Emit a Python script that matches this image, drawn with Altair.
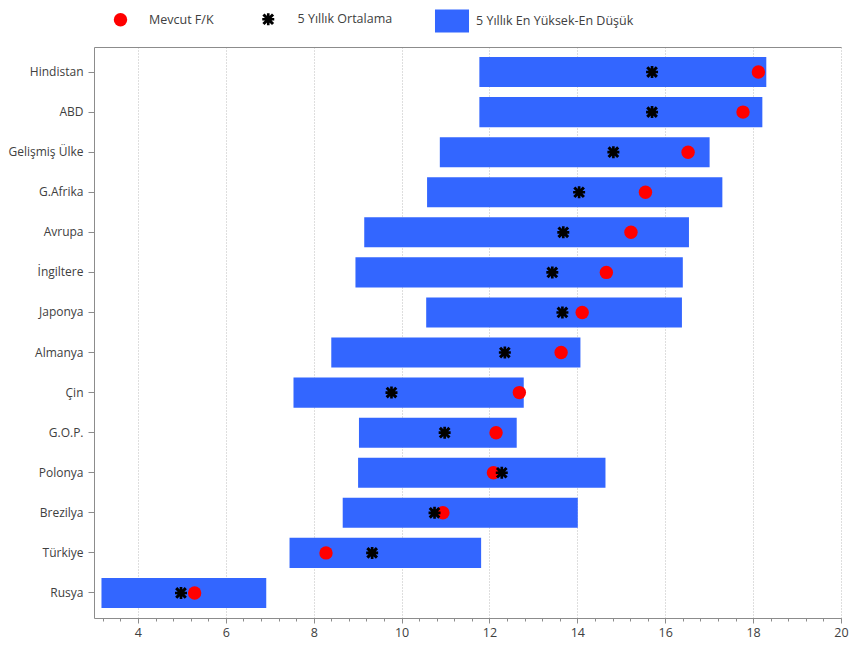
import altair as alt
import pandas as pd

countries = ["Hindistan", "ABD", "Gelişmiş Ülke", "G.Afrika", "Avrupa", "İngiltere",
             "Japonya", "Almanya", "Çin", "G.O.P.", "Polonya", "Brezilya", "Türkiye", "Rusya"]
low_5y = [11.77, 11.77, 10.87, 10.58, 9.15, 8.95, 10.56, 8.40, 7.54, 9.03, 9.01, 8.66, 7.45, 3.17]
high_5y = [18.30, 18.21, 17.01, 17.30, 16.54, 16.40, 16.38, 14.07, 12.78, 12.62, 14.64, 14.01, 11.81, 6.92]
avg_5y = [15.70, 15.70, 14.82, 14.04, 13.68, 13.43, 13.66, 12.35, 9.77, 10.98, 12.28, 10.75, 9.33, 4.98]
current_pe = [18.12, 17.77, 16.52, 15.55, 15.22, 14.66, 14.11, 13.63, 12.68, 12.15, 12.09, 10.94, 8.28, 5.29]

series_names = ["Mevcut F/K", "5 Yıllık Ortalama", "5 Yıllık En Yüksek-En Düşük"]
major_ticks = [4, 6, 8, 10, 12, 14, 16, 18, 20]
minor_ticks = [round(3.2 + 0.4 * i, 1) for i in range(43)]
x_domain = [3, 20]

df = pd.DataFrame({
    "country": countries,
    "low": low_5y,
    "high": high_5y,
    "avg": avg_5y,
    "cur": current_pe,
    "s_cur": series_names[0],
    "s_avg": series_names[1],
    "s_rng": series_names[2],
})

FONT = "Open Sans"
GRAY = "#8c8c8c"
TXT = "#404040"
LFS = 12.5

STAR = ("M-1,-0.22H1V0.22H-1Z M-0.22,-1H0.22V1H-0.22Z "
        "M-0.623,-0.977L0.977,0.623L0.623,0.977L-0.977,-0.623Z "
        "M0.623,-0.977L0.977,-0.623L-0.623,0.977L-0.977,0.623Z")
RECT = "M-2.43,-1.64H2.43V1.64H-2.43Z"

yenc = alt.Y("country:N", sort=countries, title=None,
             scale=alt.Scale(paddingInner=0.25, paddingOuter=0.25),
             axis=alt.Axis(domainColor=GRAY, tickColor=GRAY, tickSize=6, labelPadding=5,
                           labelColor=TXT, labelFontSize=12, labelFont=FONT, grid=False))

xscale = alt.Scale(domain=x_domain, nice=False, zero=False)

bars = alt.Chart(df).mark_bar(color="#3366ff").encode(
    x=alt.X("low:Q", scale=xscale, title=None,
            axis=alt.Axis(values=major_ticks, orient="bottom", grid=True, gridColor="#bdbdbd",
                          gridDash=[1, 2], gridWidth=1, domainColor=GRAY, tickColor=GRAY,
                          tickSize=5, labelPadding=3, labelColor=TXT, labelFontSize=LFS,
                          labelFont=FONT, labelFlush=False)),
    x2="high:Q",
    y=yenc,
    fill=alt.Fill("s_rng:N", title=None,
                  scale=alt.Scale(domain=[series_names[2]], range=["#3366ff"]),
                  legend=alt.Legend(orient="none", legendX=350, legendY=-34, padding=0,
                                    symbolType=RECT, symbolSize=196, labelOffset=16,
                                    labelFontSize=LFS, labelFont=FONT, labelColor=TXT)),
)

circles = alt.Chart(df).mark_circle(size=180, opacity=1).encode(
    x=alt.X("cur:Q", scale=xscale, title=None,
            axis=alt.Axis(orient="top", labels=False, ticks=False, grid=False,
                          domainColor=GRAY)),
    y=alt.Y("country:N", sort=countries),
    color=alt.Color("s_cur:N", title=None,
                    scale=alt.Scale(domain=[series_names[0]], range=["#ff0000"]),
                    legend=alt.Legend(orient="none", legendX=19, legendY=-34.7, padding=0,
                                      symbolType="circle", symbolSize=180, labelOffset=21,
                                      labelFontSize=LFS, labelFont=FONT, labelColor=TXT,
                                      symbolOpacity=1)),
)

stars = alt.Chart(df).mark_point(filled=True, size=144, color="black", opacity=1).encode(
    x=alt.X("avg:Q", scale=xscale, title=None,
            axis=alt.Axis(values=minor_ticks, orient="bottom", labels=False, grid=False,
                          domain=False, tickColor=GRAY, tickSize=3)),
    y=alt.Y("country:N", sort=countries),
    shape=alt.Shape("s_avg:N", title=None,
                    scale=alt.Scale(domain=[series_names[1]], range=[STAR]),
                    legend=alt.Legend(orient="none", legendX=168, legendY=-34, padding=0,
                                      symbolSize=144, labelOffset=23, symbolFillColor="black",
                                      symbolStrokeWidth=0,
                                      labelFontSize=LFS, labelFont=FONT, labelColor=TXT)),
)

chart = alt.layer(bars, circles, stars).resolve_scale(
    x="independent", fill="independent", color="independent", shape="independent"
).properties(
    width=747, height=571,
    autosize="none",
    padding={"left": 86, "top": 39, "right": 8, "bottom": 22},
).configure_view(stroke=None)

chart.save("out.html", embed_options={"renderer": "svg", "actions": False})
